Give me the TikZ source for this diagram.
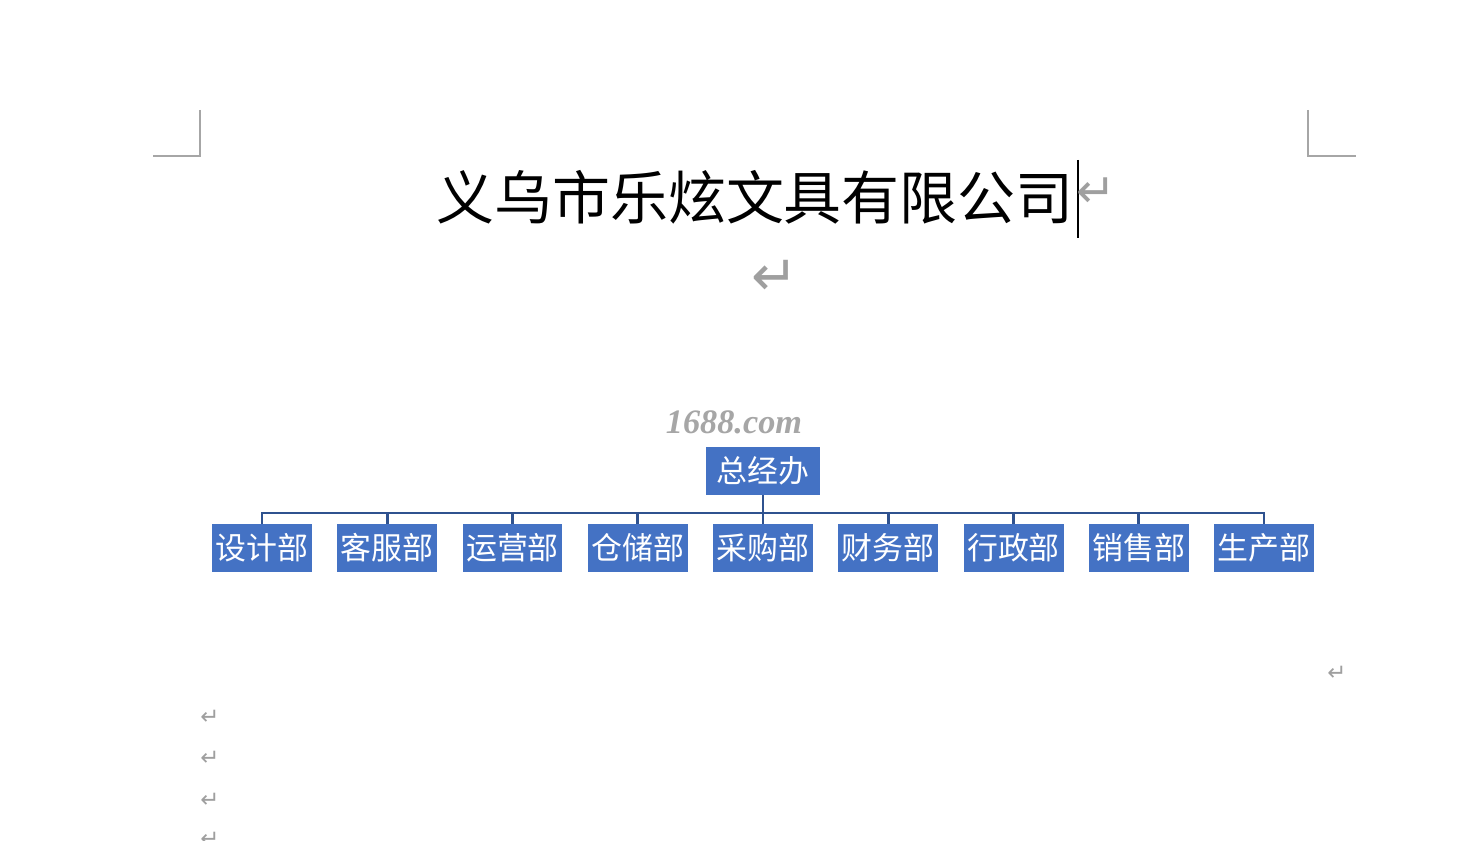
\documentclass[tikz,border=0pt]{standalone}
\usepackage{fontspec}
\newfontfamily\cjk{Noto Sans CJK SC}
\newfontfamily\parmarkfont{DejaVu Sans}
\newfontfamily\wmark{Liberation Serif}
\definecolor{boxblue}{HTML}{4472C4}
\definecolor{lineblue}{HTML}{2F528F}
\begin{document}
\begin{tikzpicture}[x=0.02cm,y=-0.02cm,
  dept/.style={fill=boxblue,text=white,font=\cjk\fontsize{17.6}{20}\selectfont,minimum width=2cm,minimum height=0.96cm,inner sep=0pt},
  link/.style={draw=lineblue,line width=1.6pt},
  pmark/.style={text=gray!75,font=\parmarkfont\fontsize{#1}{#1}\selectfont,inner sep=0pt},
  corner/.style={draw=gray!70,line width=0.6pt}]
  \useasboundingbox (0,0) rectangle (1467,841);
  \draw[corner] (200,110) -- (200,156) -- (153,156);
  \draw[corner] (1308,110) -- (1308,156) -- (1356,156);
  \node[font=\cjk\fontsize{33}{36}\selectfont,inner sep=0pt] (title) at (755,197){义乌市乐炫文具有限公司};
  \draw[line width=1.1pt] (1078,160) -- (1078,238);
  \node[pmark=27] (p1) at (1096,193){↵};
  \node[pmark=32] (p2) at (775,278){↵};
  \node[pmark=13] (p3) at (1337,673){↵};
  \foreach \y [count=\i] in {717,758,800,839}
    \node[pmark=13] (q\i) at (210,\y){↵};
  \node[text=gray!70,font=\wmark\bfseries\itshape\fontsize{19.5}{22}\selectfont,inner sep=0pt] (wm) at (734,422){1688.com};
  \node[dept,minimum width=2.3cm] (root) at (763,471){总经办};
  \coordinate (bus) at (763,513);
  \foreach \name [count=\i] in {设计部,客服部,运营部,仓储部,采购部,财务部,行政部,销售部,生产部}
    \node[dept] (d\i) at ({262+125.25*(\i-1)},548){\name};
  \draw[link] (root.south) -- (root.south |- bus);
  \draw[link] (d1.north) -- (d1.north |- bus) -- (d9.north |- bus) -- (d9.north);
  \foreach \i in {2,...,8}
    \draw[link] (d\i.north) -- (d\i.north |- bus);
\end{tikzpicture}
\end{document}
